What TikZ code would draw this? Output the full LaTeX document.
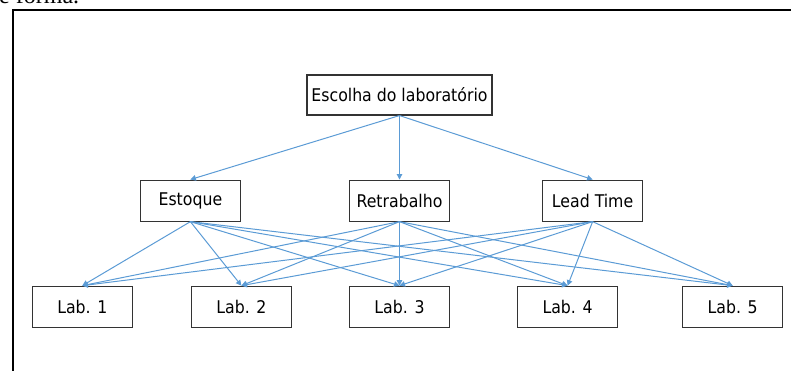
\documentclass[tikz,border=0pt]{standalone}
\usepackage{fontspec}
\newfontfamily\boxfont{DejaVu Sans Condensed}
\newfontfamily\textoserif{Liberation Serif}
\usepackage{tikz}
\usetikzlibrary{arrows.meta, positioning}
\usepackage{xcolor}
\definecolor{azulseta}{HTML}{5B9BD5}

\begin{document}
\begin{tikzpicture}[
      x=1pt, y=-1pt,
      crit/.style={rectangle, draw=black!80, line width=1.1pt, minimum width=100pt, minimum height=41pt, inner sep=0pt, font=\boxfont\fontsize{17.5}{20}\selectfont},
      lab/.style={crit},
      arrow/.style={draw=azulseta, line width=1pt, -{Triangle[length=5.5pt, width=5.5pt]}}
    ]

    \clip (0,0) rectangle (791,371);

    % Moldura e texto cortado
    \node (trecho) [anchor=base west, inner sep=0pt, font=\textoserif\fontsize{24}{24}\selectfont] at (-1,4) {e forma.};
    \draw [line width=2pt] (13,380) -- (13,10) -- (800,10);

    % Nós
    \node (escolha) [crit, minimum width=185pt, minimum height=40pt] at (399.5,95) {Escolha do laboratório};
    \node (retrab) [crit, below=64pt of escolha] {Retrabalho};
    \node (estoque) [crit, left=108pt of retrab] {Estoque};
    \node (lead) [crit, right=92pt of retrab] {Lead Time};
    \node (lab3) [lab, below=64pt of retrab] {Lab. 3};
    \node (lab2) [lab, left=57pt of lab3] {Lab. 2};
    \node (lab1) [lab, left=58pt of lab2] {Lab. 1};
    \node (lab4) [lab, right=67pt of lab3] {Lab. 4};
    \node (lab5) [lab, right=64pt of lab4] {Lab. 5};

    % Conexões
    \draw [arrow] (escolha.south) -- (estoque.north);
    \draw [arrow] (escolha.south) -- (retrab.north);
    \draw [arrow] (escolha.south) -- (lead.north);

    \draw [arrow] (estoque.south) -- (lab1.north);
    \draw [arrow] (estoque.south) -- (lab2.north);
    \draw [arrow] (estoque.south) -- (lab3.north);
    \draw [arrow] (estoque.south) -- (lab4.north);
    \draw [arrow] (estoque.south) -- (lab5.north);

    \draw [arrow] (retrab.south) -- (lab1.north);
    \draw [arrow] (retrab.south) -- (lab2.north);
    \draw [arrow] (retrab.south) -- (lab3.north);
    \draw [arrow] (retrab.south) -- (lab4.north);
    \draw [arrow] (retrab.south) -- (lab5.north);

    \draw [arrow] (lead.south) -- (lab1.north);
    \draw [arrow] (lead.south) -- (lab2.north);
    \draw [arrow] (lead.south) -- (lab3.north);
    \draw [arrow] (lead.south) -- (lab4.north);
    \draw [arrow] (lead.south) -- (lab5.north);

  \end{tikzpicture}
\end{document}
